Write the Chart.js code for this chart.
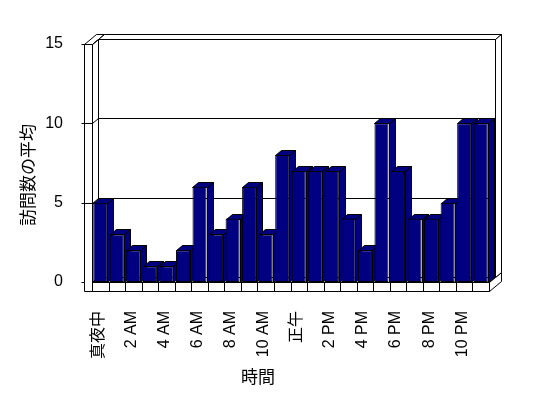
<!DOCTYPE html>
<html>
<head>
<meta charset="utf-8">
<script src="https://cdn.jsdelivr.net/npm/chart.js@4"></script>
<style>
  body { margin: 0; background: #fff; }
  canvas { display: block; }
</style>
</head>
<body>
<canvas id="chart" width="548" height="398"></canvas>
<script>
// hours of the day (only every other one is labelled)
const hours = ['真夜中', '1 AM', '2 AM', '3 AM', '4 AM', '5 AM', '6 AM', '7 AM', '8 AM', '9 AM', '10 AM', '11 AM',
  '正午', '1 PM', '2 PM', '3 PM', '4 PM', '5 PM', '6 PM', '7 PM', '8 PM', '9 PM', '10 PM', '11 PM'];
const visits = [5, 3, 2, 1, 1, 2, 6, 3, 4, 6, 3, 8, 7, 7, 7, 4, 2, 10, 7, 4, 4, 5, 10, 10];
const yTicks = [0, 5, 10, 15];
const xTitle = '時間';
const yTitle = '訪問数の平均';

const FONT = "'Liberation Sans', 'Noto Sans CJK JP', sans-serif";
const NAVY = '#000080';
const DX = 6, DY = -5;   // depth of one slab
const WALL = 8, FLOOR = 9;

const px = v => Math.round(v) + 0.5;

function poly(ctx, pts, fill) {
  ctx.beginPath();
  pts.forEach((p, i) => i ? ctx.lineTo(px(p[0]), px(p[1])) : ctx.moveTo(px(p[0]), px(p[1])));
  ctx.closePath();
  ctx.fillStyle = fill;
  ctx.fill();
  ctx.stroke();
}
function seg(ctx, x1, y1, x2, y2) {
  ctx.beginPath();
  ctx.moveTo(px(x1), px(y1));
  ctx.lineTo(px(x2), px(y2));
  ctx.stroke();
}

const box3d = {
  id: 'box3d',
  beforeDatasetsDraw(chart) {
    const { ctx, chartArea: a, scales: { x, y } } = chart;
    const L = Math.round(a.left), R = Math.round(a.right), T = Math.round(a.top), B = Math.round(a.bottom);
    ctx.save();
    ctx.lineWidth = 1;
    ctx.strokeStyle = '#000';

    // floor
    poly(ctx, [[L - WALL, B], [R, B], [R + 2 * DX, B + 2 * DY], [L - WALL + 2 * DX, B + 2 * DY]], '#fff');
    poly(ctx, [[R, B], [R + 2 * DX, B + 2 * DY], [R + 2 * DX, B + 2 * DY + FLOOR], [R, B + FLOOR]], '#fff');
    poly(ctx, [[L, B], [R, B], [R, B + FLOOR], [L, B + FLOOR]], '#fff');
    for (let i = 1; i < hours.length; i++) {
      const bx = (x.getPixelForValue(i - 1) + x.getPixelForValue(i)) / 2;
      seg(ctx, bx, B, bx, B + FLOOR);
    }

    // left wall
    poly(ctx, [[L - WALL, T], [L, T], [L + 2 * DX, T + 2 * DY], [L - WALL + 2 * DX, T + 2 * DY]], '#fff');
    poly(ctx, [[L, T], [L + 2 * DX, T + 2 * DY], [L + 2 * DX, B + 2 * DY], [L, B]], '#fff');
    poly(ctx, [[L - WALL, T], [L, T], [L, B + FLOOR], [L - WALL, B + FLOOR]], '#fff');

    // back wall
    poly(ctx, [[L + DX, T + DY], [R + DX, T + DY], [R + 2 * DX, T + 2 * DY], [L + 2 * DX, T + 2 * DY]], '#fff');
    poly(ctx, [[R + DX, T + DY], [R + 2 * DX, T + 2 * DY], [R + 2 * DX, B + 2 * DY], [R + DX, B + DY]], '#fff');
    poly(ctx, [[L + DX, T + DY], [R + DX, T + DY], [R + DX, B + DY], [L + DX, B + DY]], '#fff');

    // grid lines + ticks
    yTicks.forEach(v => {
      const yy = y.getPixelForValue(v);
      seg(ctx, L - WALL - 3, yy, L - WALL, yy);
      if (v === 0) return;
      seg(ctx, L - WALL, yy, L, yy);
      seg(ctx, L, yy, L + DX, yy + DY);
      seg(ctx, L + DX, yy + DY, R + DX, yy + DY);
    });
    seg(ctx, L, B, L + DX, B + DY);

    // bar sides and tops (fronts are drawn by Chart.js on top)
    chart.getDatasetMeta(0).data.forEach(bar => {
      const { x: cx, y: top, base, width } = bar.getProps(['x', 'y', 'base', 'width'], true);
      const l = cx - width / 2, r = cx + width / 2;
      poly(ctx, [[r, top], [r + DX, top + DY], [r + DX, base + DY], [r, base]], NAVY);
      poly(ctx, [[l, top], [l + DX, top + DY], [r + DX, top + DY], [r, top]], NAVY);
    });
    ctx.restore();
  },
  afterDraw(chart) {
    const ctx = chart.ctx;
    ctx.save();
    ctx.fillStyle = '#000';
    ctx.font = "17px 'Noto Sans CJK JP', sans-serif";
    ctx.textAlign = 'center';
    ctx.textBaseline = 'middle';
    ctx.fillText(xTitle, 258, 377);
    ctx.translate(28, 175);
    ctx.rotate(-Math.PI / 2);
    ctx.fillText(yTitle, 0, 0);
    ctx.restore();
  }
};

new Chart(document.getElementById('chart'), {
  type: 'bar',
  data: {
    labels: hours,
    datasets: [{
      data: visits,
      backgroundColor: NAVY,
      borderColor: '#000',
      borderWidth: 1,
      borderSkipped: false,
      barPercentage: 0.85,
      categoryPercentage: 1
    }]
  },
  options: {
    responsive: false,
    animation: false,
    layout: { padding: { top: 44, right: 59, bottom: 0, left: 0 } },
    plugins: { legend: { display: false }, tooltip: { enabled: false } },
    scales: {
      x: {
        grid: { display: false },
        border: { display: false },
        afterFit: s => { s.height = 116; },
        ticks: {
          autoSkip: false,
          minRotation: 90,
          maxRotation: 90,
          padding: 21,
          labelOffset: -2,
          color: '#000',
          font: { family: FONT, size: 16 },
          callback: (v, i) => i % 2 === 0 ? hours[i] : ''
        }
      },
      y: {
        min: 0,
        max: 15,
        grid: { display: false },
        border: { display: false },
        afterFit: s => { s.width = 92; },
        afterBuildTicks: s => { s.ticks = yTicks.map(v => ({ value: v })); },
        ticks: {
          padding: 21,
          color: '#000',
          font: { family: FONT, size: 16 }
        }
      }
    }
  },
  plugins: [box3d]
});
</script>
</body>
</html>
